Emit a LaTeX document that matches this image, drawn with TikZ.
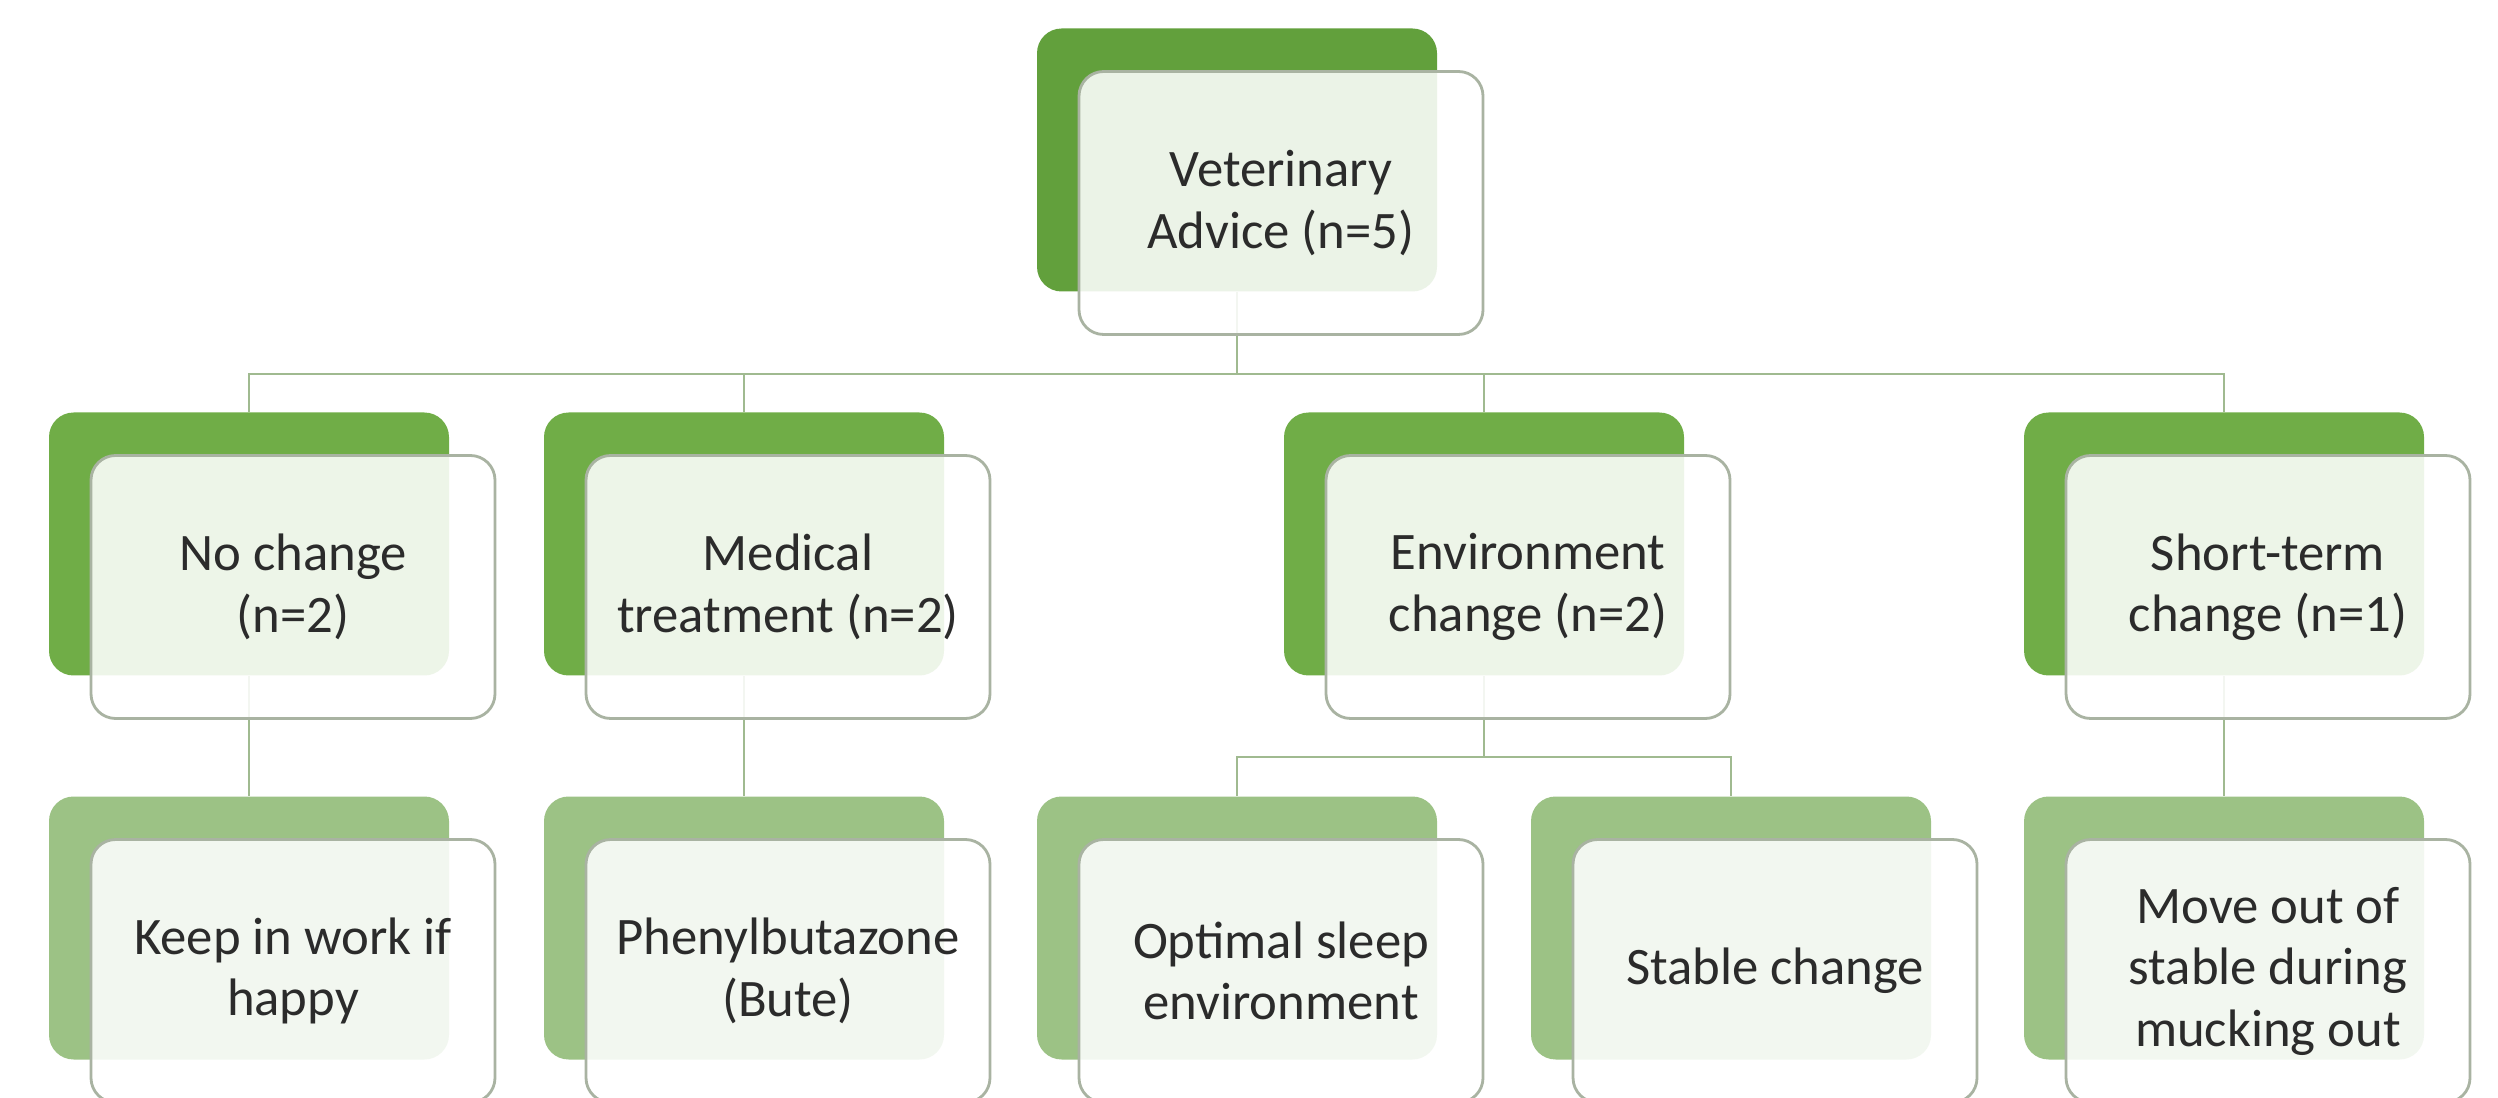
\documentclass[tikz,border=0pt]{standalone}
\usepackage{fontspec}
\setmainfont{Carlito}
\definecolor{gtop}{HTML}{62A03C}
\definecolor{gmid}{HTML}{70AD47}
\definecolor{glow}{HTML}{9CC285}
\definecolor{edge}{HTML}{A9B3A2}
\definecolor{lnk}{HTML}{A0BA90}
\definecolor{txt}{HTML}{2B2B2B}

\begin{document}
\begin{tikzpicture}[
  font=\fontsize{15}{17.5}\selectfont,
  bk/.style={rounded corners=7pt, minimum width=4.0cm, minimum height=2.63cm, inner sep=0pt},
  fr/.style={draw=edge, line width=0.8pt, fill=white, fill opacity=0.88, text opacity=1,
    text=txt, rounded corners=7pt, align=center, minimum width=4.04cm, minimum height=2.63cm, inner sep=0pt},
  ln/.style={draw=lnk, line width=0.8pt}
]
  \useasboundingbox (0,0) rectangle (24.98,-10.98);
  % back boxes
  \node[bk, fill=gtop] (va) at (12.37,-1.60) {};
  \node[bk, fill=gmid] (nc) at (2.49,-5.44)  {};
  \node[bk, fill=gmid] (mt) at (7.44,-5.44)  {};
  \node[bk, fill=gmid] (ec) at (14.84,-5.44) {};
  \node[bk, fill=gmid] (st) at (22.24,-5.44) {};
  \node[bk, fill=glow] (kw) at (2.49,-9.28)  {};
  \node[bk, fill=glow] (pb) at (7.44,-9.28)  {};
  \node[bk, fill=glow] (os) at (12.37,-9.28) {};
  \node[bk, fill=glow] (sc) at (17.31,-9.28) {};
  \node[bk, fill=glow] (mo) at (22.24,-9.28) {};
  % links
  \coordinate (bus) at (12.37,-3.74);
  \coordinate (sub) at (14.84,-7.57);
  \draw[ln] (va.south) -- (bus);
  \draw[ln] (bus) -| (nc.north);  \draw[ln] (bus) -| (mt.north);
  \draw[ln] (bus) -| (ec.north);  \draw[ln] (bus) -| (st.north);
  \draw[ln] (nc.south) -- (kw.north);
  \draw[ln] (mt.south) -- (pb.north);
  \draw[ln] (ec.south) -- (sub);
  \draw[ln] (sub) -| (os.north);  \draw[ln] (sub) -| (sc.north);
  \draw[ln] (st.south) -- (mo.north);
  % front boxes
  \node[fr] (vat) at (12.81,-2.03) {Veterinary\\Advice (n=5)};
  \node[fr] (nct) at (2.93,-5.87)  {No change\\(n=2)};
  \node[fr] (mtt) at (7.88,-5.87)  {Medical\\treatment (n=2)};
  \node[fr] (ect) at (15.28,-5.87) {Environment\\change (n=2)};
  \node[fr] (stt) at (22.68,-5.87) {Short-term\\change (n=1)};
  \node[fr] (kwt) at (2.93,-9.71)  {Keep in work if\\happy};
  \node[fr] (pbt) at (7.88,-9.71)  {Phenylbutazone\\(Bute)};
  \node[fr] (ost) at (12.81,-9.71) {Optimal sleep\\environment};
  \node[fr] (sct) at (17.75,-9.71) {Stable change};
  \node[fr] (mot) at (22.68,-9.71) {Move out of\\stable during\\mucking out};
\end{tikzpicture}
\end{document}
